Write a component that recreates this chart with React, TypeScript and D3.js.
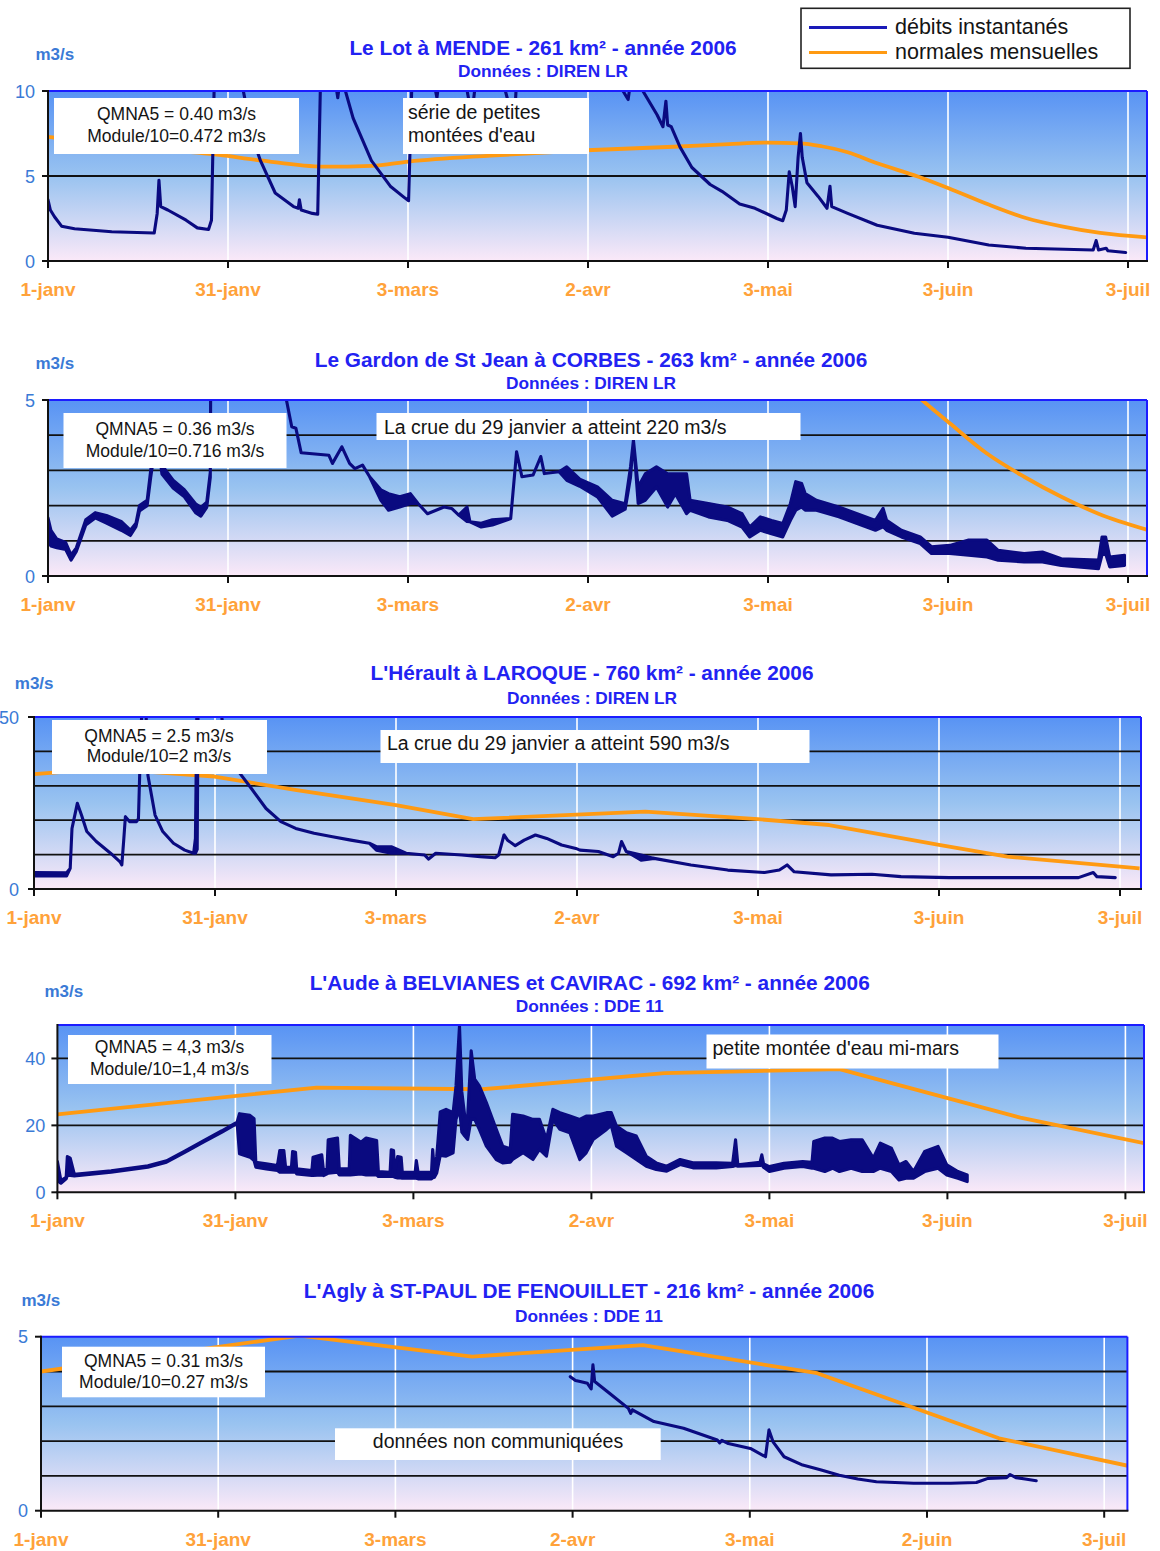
import React from "react";
import * as d3 from "d3";

// Each row is [day, value] or, for noisy stretches, [day, low, high].
type Row = number[];

const FONT = "'Liberation Sans', Arial, Helvetica, sans-serif";
const NAVY = "#0a0a80";
const ORANGE = "#ff9a12";
const TITLE_BLUE = "#2222f2";
const AXIS_BLUE = "#3a7ad6";
const DATE_ORANGE = "#ffa23a";

// Date axis: one tick every 30.5 days from 1 January.
const tickDays = [0, 30.5, 61, 91.5, 122, 152.5, 183];
const dateLabels = ["1-janv", "31-janv", "3-mars", "2-avr", "3-mai", "3-juin", "3-juil"];
const dateLabelsAgly = ["1-janv", "31-janv", "3-mars", "2-avr", "3-mai", "2-juin", "3-juil"];

// ---- Le Lot à Mende ----
const lotFlow: Row[] = [
  [0, 3.6], [0.4, 3.0], [1.1, 2.6], [2.3, 2.05], [4.5, 1.9], [10.8, 1.72], [18.0, 1.65],
  [18.5, 2.8], [18.8, 4.75], [19.1, 3.2], [20.3, 3.0], [23.4, 2.4], [25.3, 1.95], [27.2, 1.85],
  [27.7, 2.4], [28.2, 11], [29.5, 16], [31.5, 13], [33.1, 10], [34.1, 8.2], [35.0, 6.9],
  [36, 5.9], [38.5, 4.0], [41.6, 3.2], [42.4, 3.1], [42.6, 3.6], [42.9, 3.0], [44.8, 2.8],
  [45.7, 2.75], [46.2, 11], [47, 14], [48.7, 10.5], [49.1, 9.6], [49.6, 11], [50.4, 10],
  [51.7, 8.4], [54.8, 5.9], [58, 4.4], [60.5, 3.7], [61.1, 3.55], [61.7, 11], [63, 13],
  [65.5, 10.3], [65.9, 9.6], [66.4, 11], [70, 12], [71.8, 8.5], [72.6, 11], [76, 12],
  [79.0, 8.0], [79.6, 12], [88, 13], [95.7, 11], [98.3, 9.5], [98.9, 11], [100, 11.5],
  [100.8, 10], [103.2, 8.6], [104.2, 7.9], [104.7, 9.4], [105.0, 8.0], [105.6, 7.9],
  [107.1, 6.7], [109.1, 5.5], [112.2, 4.5], [114.2, 4.1], [117.2, 3.35], [119.8, 3.1],
  [123.5, 2.5], [124.5, 2.37], [125.1, 3.0], [125.6, 5.25], [126.1, 4.4], [126.6, 3.2],
  [127.1, 6.1], [127.5, 7.5], [127.8, 6.1], [128.6, 4.6], [130.5, 3.8], [132.0, 3.1],
  [132.5, 4.4], [132.8, 3.2], [135.5, 2.8], [140.5, 2.1], [146.8, 1.63], [152.5, 1.4],
  [159.4, 0.94], [165.7, 0.75], [177.1, 0.65], [177.6, 1.2], [178.0, 0.65], [179.3, 0.75],
  [179.6, 0.6], [182.6, 0.5],
];
const lotNormal: Row[] = [
  [0, 7.3], [14, 6.75], [29, 6.24], [36, 5.92], [46.7, 5.55], [54.8, 5.6], [61.1, 5.85],
  [75, 6.2], [90.2, 6.5], [106, 6.72], [115.4, 6.88], [121.7, 6.96], [127.4, 6.92],
  [131.1, 6.75], [135.5, 6.4], [140.5, 5.75], [147.5, 4.96], [152.5, 4.3], [159.4, 3.32],
  [165.7, 2.53], [172, 2.02], [178.3, 1.65], [186.7, 1.38],
];

// ---- Le Gardon de St Jean à Corbes ----
const gardonFlow: Row[] = [
  [0, 1.0, 1.65], [0.5, 0.85, 1.3], [1.5, 0.8, 1.05], [3, 0.75, 0.95], [3.9, 0.45, 0.6],
  [4.8, 0.7, 0.8], [6.4, 1.45, 1.6], [8, 1.65, 1.8], [9.9, 1.5, 1.72], [12.4, 1.3, 1.55],
  [13.96, 1.15, 1.3], [14.9, 1.4, 1.5], [15.5, 1.85, 2.0], [16.8, 2.0, 2.15], [17.4, 2.8, 3.0],
  [18, 3.5, 3.7], [18.8, 3.6, 3.8], [19.3, 2.9, 3.15], [21.2, 2.5, 2.72], [23.1, 2.25, 2.45],
  [25, 1.8, 2.05], [25.9, 1.7, 1.95], [26.9, 1.95, 2.1], [27.5, 2.8, 2.95], [28.2, 30, 30],
  [32, 12, 12], [36, 7, 7], [40.4, 5.0, 5.0], [41.3, 4.24, 4.24], [42, 4.2, 4.2],
  [42.9, 3.5, 3.5], [47.6, 3.43, 3.43], [48.2, 3.2, 3.2], [49.8, 3.67, 3.67], [51.1, 3.2, 3.2],
  [52, 3.05, 3.05], [53.3, 3.15, 3.15], [54.5, 2.82, 2.82], [56.4, 2.15, 2.45],
  [57.7, 1.87, 2.34], [59.6, 1.96, 2.25], [61.4, 2.06, 2.34], [62.7, 2.06, 2.06],
  [64.3, 1.77, 1.77], [67.1, 1.96, 1.96], [68.4, 1.92, 1.92], [69.6, 1.73, 1.73],
  [71.0, 1.55, 1.96], [71.5, 1.54, 1.54], [73.4, 1.39, 1.5], [75.3, 1.45, 1.6],
  [78.4, 1.63, 1.63], [79.4, 3.53, 3.53], [80.3, 2.82, 2.82], [82.2, 2.87, 2.87],
  [83.5, 3.39, 3.39], [84.1, 2.91, 2.91], [86.6, 2.96, 2.96], [87.9, 2.72, 3.1],
  [90.1, 2.55, 2.75], [93.1, 2.25, 2.53], [95.6, 1.7, 2.15], [97.8, 1.9, 2.05],
  [98.7, 2.8, 3.1], [99.2, 3.86, 3.86], [100, 2.06, 2.53], [101.2, 2.15, 2.9],
  [103.1, 2.53, 3.1], [105, 1.96, 2.9], [106.3, 2.34, 2.9], [108.2, 1.77, 2.9],
  [108.8, 1.87, 2.15], [111.9, 1.68, 2.06], [115.1, 1.58, 1.96], [117.6, 1.39, 1.77],
  [118.9, 1.11, 1.39], [120.7, 1.3, 1.68], [122.6, 1.2, 1.58], [124.5, 1.11, 1.49],
  [125.8, 1.58, 2.06], [126.7, 1.87, 2.68], [127.7, 1.96, 2.63], [128.3, 1.87, 2.34],
  [130.2, 1.87, 2.15], [134, 1.68, 1.96], [137.1, 1.49, 1.77], [140.2, 1.3, 1.58],
  [141.5, 1.4, 1.92], [142.1, 1.3, 1.58], [144.6, 1.11, 1.3], [147.8, 0.92, 1.11],
  [149.7, 0.64, 0.83], [152.8, 0.64, 0.87], [156, 0.59, 1.02], [159.1, 0.54, 1.02],
  [161, 0.45, 0.73], [165.4, 0.4, 0.64], [168.5, 0.4, 0.68], [171.7, 0.3, 0.49],
  [178, 0.21, 0.45], [178.6, 0.6, 1.11], [179.2, 0.64, 1.11], [179.9, 0.26, 0.54],
  [182.4, 0.3, 0.59],
];
const gardonNormal: Row[] = [
  [144.5, 5.55], [148.1, 5.0], [152.8, 4.34], [159.1, 3.48], [165.4, 2.82], [171.7, 2.25],
  [178, 1.77], [186.5, 1.3],
];

// ---- L'Hérault à Laroque ----
const heraultFlow: Row[] = [
  [0, 3.8, 4.8], [5.5, 3.8, 4.7], [6.1, 6.0], [6.4, 17.6], [6.7, 20], [7.3, 24.9], [8.0, 21.5],
  [8.9, 16.7], [10.5, 13.8], [12.9, 10.4], [14.5, 7.9], [14.8, 7.0], [15.1, 13.8], [15.4, 21.0],
  [16.1, 19.6], [17.3, 19.6], [17.6, 20.5], [18.0, 45], [18.4, 60], [18.9, 50], [19.2, 33],
  [20.4, 21.5], [21.7, 16.7], [23.5, 13.3], [25.4, 11.3], [26.9, 10.4], [27.2, 10.4, 14.7],
  [27.5, 11.5, 60], [27.7, 70], [29.5, 80], [32, 45], [34.7, 33.6], [36.6, 29.3], [39.1, 23.4],
  [41.6, 19.6], [44.1, 17.6], [47.2, 16.2], [50.3, 15.2], [53.4, 14.2], [56.5, 13.3],
  [57.7, 11.3, 12.3], [60.2, 10.4, 12.3], [62.7, 10.4], [65.8, 9.9], [66.5, 8.7], [67.7, 10.4],
  [72.1, 9.9], [75.2, 9.4], [77.7, 9.1], [78.3, 9.9], [79.2, 15.7], [79.8, 14.2], [81.1, 12.6],
  [82.6, 14.2], [84.5, 15.7], [86.4, 14.7], [88.9, 12.8], [91.3, 11.8], [92, 11.3],
  [95.1, 10.9], [97.6, 9.4], [98.5, 10.4], [99, 13.8], [99.8, 10.9], [102.3, 8.4, 9.9],
  [104.5, 8.9], [110.7, 7.0], [116.9, 5.5], [123.1, 4.8], [125.6, 5.5], [126.9, 7.0],
  [128.1, 5.0], [134.3, 4.1], [141.2, 4.3], [146.1, 3.6], [154.2, 3.3], [166.7, 3.3],
  [176, 3.3], [178.5, 4.8], [179.1, 3.6], [182.2, 3.3],
];
const heraultNormal: Row[] = [
  [0, 33.4], [12, 35.0], [30.4, 32.7], [44, 28.8], [61, 24.4], [74, 20.3], [103, 22.5],
  [122, 20.3], [134, 18.6], [152.5, 12.8], [164, 9.4], [186.3, 6.0],
];

// ---- L'Aude à Belvianes et Cavirac ----
const audeFlow: Row[] = [
  [0, 3.5, 9.2], [0.6, 2.7, 3.5], [1.5, 4.0, 4.5], [1.7, 5, 10.7], [2.2, 5.0, 10.2],
  [2.9, 4.9, 5.4], [9.2, 6.0, 6.4], [15.5, 7.5, 7.9], [18.7, 9.0, 9.4], [21.9, 12.0, 12.4],
  [25, 15.0, 15.4], [28.2, 18.0, 18.4], [30.8, 20.6, 21.0], [31.2, 11.5, 23.5],
  [33.0, 10.5, 23.0], [33.7, 9.5, 22.0], [34.0, 7.5, 9.0], [35.8, 7.0, 8.5], [37.7, 6.5, 8.0],
  [38.1, 6.0, 12.5], [38.8, 6.0, 12.5], [39.1, 6.0, 7.5], [40.1, 6.0, 7.5], [40.3, 6.0, 12.2],
  [40.8, 6.0, 12.0], [41.0, 5.5, 7.0], [43.6, 5.0, 6.5], [43.8, 5.0, 10.5], [45.3, 5.2, 11.2],
  [45.6, 5.0, 6.5], [46.2, 5.5, 7.0], [46.4, 5.7, 15.7], [48.0, 6.0, 16.2], [48.3, 5.2, 7.0],
  [50.0, 5.2, 7.0], [50.2, 5.2, 17.0], [52.0, 5.5, 15.0], [52.9, 5.2, 16.2], [54.7, 5.2, 15.5],
  [55.0, 4.7, 6.2], [57.0, 4.7, 6.0], [57.2, 4.7, 12.7], [57.6, 4.7, 12.5], [57.8, 4.5, 6.0],
  [58.3, 4.3, 10.7], [58.9, 4.3, 10.5], [59.1, 4.2, 6.0], [61.3, 4.2, 6.0], [61.5, 4.2, 9.5],
  [61.8, 4.0, 6.0], [64.1, 4.0, 6.0], [64.3, 4.3, 12.8], [64.6, 4.5, 6.5], [65.0, 5.8, 10.8],
  [65.6, 11.0, 24.0], [66.6, 10.8, 24.8], [67.8, 11.8, 23.8], [68.3, 21.8, 31.8],
  [68.9, 25, 49.8], [69.3, 18, 30], [69.8, 16.8, 22.8], [70.3, 15.8, 22.8], [70.9, 22, 42.3],
  [71.5, 21.8, 33.8], [72.3, 18.8, 31.8], [73.5, 13.8, 26.8], [75.2, 9.8, 18.8],
  [76.3, 8.8, 13.8], [77.6, 9.0, 13.0], [78, 9.8, 23.3], [79.8, 11.8, 22.8], [81.5, 9.8, 21.8],
  [82.6, 12.8, 21.8], [83.8, 10.8, 15.8], [84.9, 21.8, 24.8], [86.1, 18.8, 23.8],
  [87.8, 17.8, 22.8], [89.5, 9.8, 21.8], [90.6, 11.8, 22.8], [91.8, 15.8, 22.8],
  [94.1, 18.8, 23.8], [94.9, 20, 23.8], [95.8, 13.8, 19.8], [97.5, 11.8, 17.8],
  [99.2, 9.8, 16.8], [100.9, 7.8, 10.8], [102.6, 6.8, 8.8], [104.4, 6.3, 7.8],
  [106.7, 8.3, 9.8], [108.9, 7.3, 8.8], [112.9, 7.3, 8.8], [115.7, 7.7, 8.7], [116.2, 8, 15.7],
  [116.6, 7.8, 8.2], [120.4, 8.0, 9.0], [120.7, 8.2, 11.2], [121.0, 7.5, 8.5], [122, 6.2, 7.7],
  [124.5, 7.2, 8.7], [127.7, 7.7, 9.2], [129.3, 7.2, 9.0], [129.6, 7.2, 15.2],
  [131.5, 6.2, 16.2], [132.8, 7.2, 16.2], [134, 6.2, 15.2], [136, 7.2, 15.7],
  [137.9, 6.2, 15.7], [139.8, 6.2, 10.2], [141, 7.2, 14.7], [142.9, 6.2, 13.2],
  [144.2, 3.7, 8.2], [145.4, 4.2, 9.2], [146.7, 4.2, 6.2], [148.6, 6.2, 12.2],
  [150.9, 7.2, 13.7], [152.4, 5.2, 8.2], [154.3, 4.2, 6.2], [155.9, 3.2, 5.2],
];
const audeNormal: Row[] = [
  [0, 23.3], [44.4, 31.3], [72.8, 30.8], [104, 35.6], [134, 36.8], [165, 22.3], [186.2, 14.7],
];

// ---- L'Agly à St-Paul de Fenouillet ----
const aglyFlow: Row[] = [
  [91.1, 3.85], [92, 3.74], [92.8, 3.71], [94.05, 3.66], [94.7, 3.5], [95.0, 4.19],
  [95.3, 3.71], [97.9, 3.37], [101.1, 2.94], [101.5, 2.8], [101.8, 2.9], [105.5, 2.56],
  [110.6, 2.37], [116.4, 2.03], [116.8, 1.95], [117.2, 2.02], [118.3, 1.93], [122.1, 1.79],
  [124.7, 1.55], [125.3, 2.32], [126, 1.98], [127.9, 1.55], [131.1, 1.31], [134.3, 1.17],
  [137.4, 1.02], [140.6, 0.91], [143.8, 0.83], [150.2, 0.79], [156.6, 0.79], [161, 0.81],
  [163, 0.93], [166.2, 0.95], [166.8, 1.04], [167.8, 0.95], [169.4, 0.91], [171.3, 0.86],
];
const aglyNormal: Row[] = [
  [0, 4.0], [44.5, 5.03], [74.2, 4.43], [103.6, 4.76], [133.6, 3.95], [164.9, 2.08],
  [187.1, 1.29],
];

// Annotation texts
const lotNotes = ["QMNA5 = 0.40 m3/s", "Module/10=0.472 m3/s"];
const gardonNotes = ["QMNA5 = 0.36 m3/s", "Module/10=0.716 m3/s"];
const heraultNotes = ["QMNA5 = 2.5 m3/s", "Module/10=2  m3/s"];
const audeNotes = ["QMNA5 = 4,3 m3/s", "Module/10=1,4 m3/s"];
const aglyNotes = ["QMNA5 = 0.31 m3/s", "Module/10=0.27 m3/s"];

const legendItems = [
  { label: "débits instantanés", color: "#1a1ab8" },
  { label: "normales mensuelles", color: ORANGE },
];

type Note = {
  lines: string[];
  box: [number, number, number, number];
  anchor: "start" | "middle";
  tx: number;
  baselines: number[];
  size: number;
};

type Panel = {
  title: string;
  source: string;
  flow: Row[];
  normal: Row[];
  smoothNormal: boolean;
  yMax: number;
  yLabels: number[];
  yGrid: number[];
  dates: string[];
  notes: Note[];
  frame: { x0: number; step: number; right: number; top: number; bottom: number };
  titleX: number;
  titleY: number;
  sourceY: number;
  unitX: number;
  unitY: number;
  yLabelGap: number;
};

const panels: Panel[] = [
  {
    title: "Le Lot à MENDE - 261 km² - année 2006",
    source: "Données : DIREN LR",
    flow: lotFlow, normal: lotNormal, smoothNormal: true,
    yMax: 10, yLabels: [0, 5, 10], yGrid: [5], dates: dateLabels,
    notes: [
      { lines: lotNotes, box: [54, 98, 245, 56], anchor: "middle", tx: 176.5, baselines: [120, 142], size: 17.5 },
      { lines: ["série de petites", "montées d'eau"], box: [403, 98, 186, 56], anchor: "start", tx: 408, baselines: [118.5, 141.5], size: 19.5 },
    ],
    frame: { x0: 48, step: 180, right: 1147, top: 91, bottom: 261 },
    titleX: 543, titleY: 55, sourceY: 77, unitX: 35.5, unitY: 60, yLabelGap: 13,
  },
  {
    title: "Le Gardon de St Jean à CORBES - 263 km² - année 2006",
    source: "Données : DIREN LR",
    flow: gardonFlow, normal: gardonNormal, smoothNormal: true,
    yMax: 5, yLabels: [0, 5], yGrid: [1, 2, 3, 4], dates: dateLabels,
    notes: [
      { lines: gardonNotes, box: [63.5, 413, 223, 55], anchor: "middle", tx: 175, baselines: [435, 457], size: 17.5 },
      { lines: ["La crue du 29 janvier a atteint 220 m3/s"], box: [376.5, 413, 424, 27], anchor: "start", tx: 384, baselines: [434], size: 19.5 },
    ],
    frame: { x0: 48, step: 180, right: 1147, top: 400, bottom: 576 },
    titleX: 591, titleY: 366.5, sourceY: 389, unitX: 35.5, unitY: 368.5, yLabelGap: 13,
  },
  {
    title: "L'Hérault à LAROQUE - 760 km² - année 2006",
    source: "Données : DIREN LR",
    flow: heraultFlow, normal: heraultNormal, smoothNormal: false,
    yMax: 50, yLabels: [0, 50], yGrid: [10, 20, 30, 40], dates: dateLabels,
    notes: [
      { lines: heraultNotes, box: [52, 720, 215, 54], anchor: "middle", tx: 159, baselines: [741.5, 761.5], size: 17.5 },
      { lines: ["La crue du 29 janvier a atteint 590 m3/s"], box: [380.5, 730, 429, 33], anchor: "start", tx: 387, baselines: [750], size: 19.5 },
    ],
    frame: { x0: 34, step: 181, right: 1141, top: 717, bottom: 889 },
    titleX: 592, titleY: 680, sourceY: 704, unitX: 14.8, unitY: 688.5, yLabelGap: 15,
  },
  {
    title: "L'Aude à BELVIANES et CAVIRAC - 692 km² - année 2006",
    source: "Données : DDE 11",
    flow: audeFlow, normal: audeNormal, smoothNormal: false,
    yMax: 50, yLabels: [0, 20, 40], yGrid: [20, 40], dates: dateLabels,
    notes: [
      { lines: audeNotes, box: [68, 1035, 203.5, 49], anchor: "middle", tx: 169.5, baselines: [1052.5, 1075], size: 17.5 },
      { lines: ["petite montée d'eau mi-mars"], box: [706.5, 1034.5, 292, 34], anchor: "start", tx: 712.5, baselines: [1055], size: 19.5 },
    ],
    frame: { x0: 57.4, step: 178, right: 1144, top: 1025, bottom: 1192.3 },
    titleX: 589.7, titleY: 990, sourceY: 1011.7, unitX: 44.4, unitY: 996.7, yLabelGap: 12,
  },
  {
    title: "L'Agly à ST-PAUL DE FENOUILLET - 216 km² - année 2006",
    source: "Données : DDE 11",
    flow: aglyFlow, normal: aglyNormal, smoothNormal: false,
    yMax: 5, yLabels: [0, 5], yGrid: [1, 2, 3, 4], dates: dateLabelsAgly,
    notes: [
      { lines: aglyNotes, box: [62, 1346.7, 203, 50.6], anchor: "middle", tx: 163.5, baselines: [1366.7, 1388.3], size: 17.5 },
      { lines: ["données non communiquées"], box: [335, 1428.3, 325.7, 31.7], anchor: "middle", tx: 498, baselines: [1448.3], size: 19.5 },
    ],
    frame: { x0: 41, step: 177.2, right: 1127.4, top: 1336.7, bottom: 1510.7 },
    titleX: 589, titleY: 1298.3, sourceY: 1321.7, unitX: 21.5, unitY: 1306, yLabelGap: 13,
  },
];

function HydroPanel({ p, idx }: { p: Panel; idx: number }) {
  const f = p.frame;
  const x = d3
    .scaleLinear()
    .domain([tickDays[0], tickDays[tickDays.length - 1]])
    .range([f.x0, f.x0 + f.step * (tickDays.length - 1)]);
  const y = d3.scaleLinear().domain([0, p.yMax]).range([f.bottom, f.top]);

  const flowArea = d3
    .area<Row>()
    .x((d) => x(d[0]))
    .y0((d) => y(d[1]))
    .y1((d) => y(d.length > 2 ? d[2] : d[1]));
  const normalLine = d3
    .line<Row>()
    .x((d) => x(d[0]))
    .y((d) => y(d[1]))
    .curve(p.smoothNormal ? d3.curveMonotoneX : d3.curveLinear);

  const gradId = `bg-${idx}`;
  const clipId = `clip-${idx}`;
  const w = f.right - f.x0;
  const h = f.bottom - f.top;

  return (
    <g>
      <defs>
        <linearGradient id={gradId} x1="0" y1="0" x2="0" y2="1">
          <stop offset="0" stopColor="#5893f4" />
          <stop offset="0.5" stopColor="#99c3f0" />
          <stop offset="1" stopColor="#fbe9f8" />
        </linearGradient>
        <clipPath id={clipId}>
          <rect x={f.x0} y={f.top} width={w} height={h} />
        </clipPath>
      </defs>

      <text x={p.titleX} y={p.titleY} textAnchor="middle" fontFamily={FONT} fontWeight="bold" fontSize={20.8} fill={TITLE_BLUE}>
        {p.title}
      </text>
      <text x={p.titleX} y={p.sourceY} textAnchor="middle" fontFamily={FONT} fontWeight="bold" fontSize={17.3} fill={TITLE_BLUE}>
        {p.source}
      </text>
      <text x={p.unitX} y={p.unitY} fontFamily={FONT} fontWeight="bold" fontSize={17} fill={AXIS_BLUE}>
        m3/s
      </text>

      <rect x={f.x0} y={f.top} width={w} height={h} fill={`url(#${gradId})`} />

      {tickDays.slice(1).map((t) => (
        <line key={`v${t}`} x1={x(t)} x2={x(t)} y1={f.top} y2={f.bottom} stroke="#ffffff" strokeWidth={1.6} />
      ))}
      {p.yGrid.map((v) => (
        <line key={`h${v}`} x1={f.x0} x2={f.right} y1={y(v)} y2={y(v)} stroke="#111" strokeWidth={1.8} />
      ))}

      <g clipPath={`url(#${clipId})`}>
        <path d={normalLine(p.normal) || ""} fill="none" stroke={ORANGE} strokeWidth={3.8} strokeLinejoin="round" />
        <path d={flowArea(p.flow) || ""} fill={NAVY} stroke={NAVY} strokeWidth={3.1} strokeLinejoin="round" strokeLinecap="round" />
      </g>

      {p.notes.map((n, i) => (
        <g key={`n${i}`}>
          <rect x={n.box[0]} y={n.box[1]} width={n.box[2]} height={n.box[3]} fill="#ffffff" />
          {n.lines.map((line, j) => (
            <text key={j} x={n.tx} y={n.baselines[j]} textAnchor={n.anchor} fontFamily={FONT} fontSize={n.size} fill="#141414">
              {line}
            </text>
          ))}
        </g>
      ))}

      {/* frame: blue on top and right, black axes on left and bottom */}
      <line x1={f.x0} x2={f.right} y1={f.top} y2={f.top} stroke="#1c1cff" strokeWidth={2} />
      <line x1={f.right} x2={f.right} y1={f.top} y2={f.bottom} stroke="#1c1cff" strokeWidth={2} />
      <line x1={f.x0} x2={f.x0} y1={f.top - 1} y2={f.bottom} stroke="#111" strokeWidth={2} />
      <line x1={f.x0 - 1} x2={f.right + 1} y1={f.bottom} y2={f.bottom} stroke="#111" strokeWidth={2} />

      {p.yLabels.map((v) => (
        <g key={`yl${v}`}>
          <line x1={f.x0 - 6} x2={f.x0} y1={y(v)} y2={y(v)} stroke="#111" strokeWidth={2} />
          <text x={f.x0 - p.yLabelGap} y={y(v) + 6.5} textAnchor="end" fontFamily={FONT} fontSize={18} fill={AXIS_BLUE}>
            {v}
          </text>
        </g>
      ))}

      {tickDays.map((t, i) => (
        <g key={`xl${t}`}>
          <line x1={x(t)} x2={x(t)} y1={f.bottom} y2={f.bottom + 7} stroke="#111" strokeWidth={2} />
          <text x={x(t)} y={f.bottom + 35} textAnchor="middle" fontFamily={FONT} fontWeight="bold" fontSize={19} fill={DATE_ORANGE}>
            {p.dates[i]}
          </text>
        </g>
      ))}
    </g>
  );
}

function Legend() {
  const box = { x: 801, y: 8.3, w: 329, h: 60 };
  const rows = [27.5, 52.5];
  return (
    <g>
      <rect x={box.x} y={box.y} width={box.w} height={box.h} fill="#ffffff" stroke="#222" strokeWidth={1.6} />
      {legendItems.map((item, i) => (
        <g key={item.label}>
          <line x1={809} x2={887} y1={rows[i]} y2={rows[i]} stroke={item.color} strokeWidth={3.2} />
          <text x={895} y={rows[i] + 6} fontFamily={FONT} fontSize={21.5} fill="#141414">
            {item.label}
          </text>
        </g>
      ))}
    </g>
  );
}

export default function App() {
  return (
    <svg
      width={1160}
      height={1551}
      viewBox="0 0 1160 1551"
      style={{ position: "absolute", left: 0, top: 0, display: "block", background: "#ffffff" }}
    >
      {panels.map((p, i) => (
        <HydroPanel key={i} p={p} idx={i} />
      ))}
      <Legend />
    </svg>
  );
}
